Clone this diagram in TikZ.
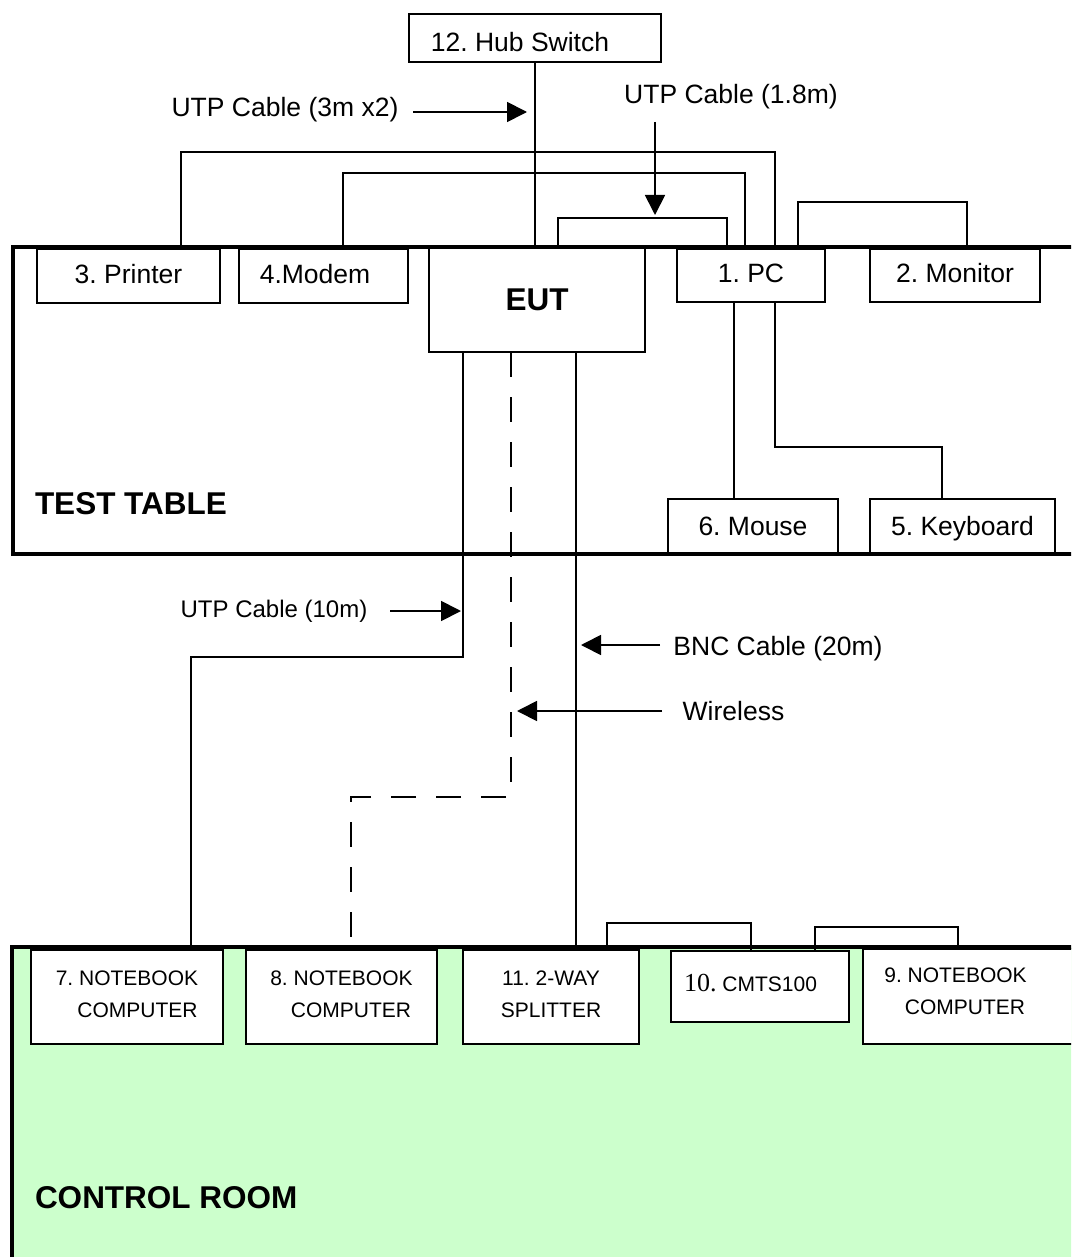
\documentclass[tikz,border=0pt]{standalone}
\usepackage{fontspec}
\setmainfont{Liberation Sans}
\newfontfamily\tnrfont{Liberation Serif}
\usetikzlibrary{arrows.meta}
\definecolor{roomgreen}{RGB}{204,255,204}
\frenchspacing
\begin{document}
\frenchspacing
\begin{tikzpicture}[x=1pt,y=-1pt,
  box/.style={draw, line width=1.8pt, fill=white, inner sep=0pt, outer sep=0pt, anchor=north west, align=center},
  lbl/.style={inner sep=0pt, outer sep=0pt, anchor=base},
  wire/.style={line width=1.7pt},
  cable/.style={line width=2.6pt},
  wless/.style={line width=2.7pt, dash pattern=on 25pt off 20pt},
  region/.style={line width=4.5pt},
  arr/.style={line width=1.8pt, -{Triangle[length=20pt,width=20pt]}},
  f26/.style={font=\fontsize{26.5}{30}\selectfont\frenchspacing},
  f24/.style={font=\fontsize{24}{28}\selectfont\frenchspacing},
  f21/.style={font=\fontsize{21}{32}\selectfont\frenchspacing},
  fbold/.style={font=\fontsize{31.5}{36}\selectfont\bfseries},
  toprow/.style={text height=14pt, text depth=0pt},
  lowrow/.style={text height=18pt, text depth=0pt},
  tworow/.style={text height=41pt, text depth=0pt},
]
\useasboundingbox (0,0) rectangle (1071,1257);
\fill[white] (0,0) rectangle (1071,1257);
\begin{scope}
\clip (0,0) rectangle (1071,1257);

% control room area
\fill[roomgreen] (12,947) rectangle (1090,1270);

% boxes on the test table
\node[box, f26, text height=27pt, text depth=0pt, minimum width=252pt, minimum height=48pt] (hub) at (409,14) {12. Hub Switch\hspace*{30pt}};
\node[box, f26, toprow, minimum width=183pt, minimum height=54pt] (printer) at (37,249) {3. Printer};
\node[box, f26, toprow, minimum width=169pt, minimum height=54pt] (modem) at (239,249) {4.Modem\hspace*{17pt}};
\node[box, fbold, minimum width=216pt, minimum height=105pt] (eut) at (429,247) {EUT};
\node[box, f26, toprow, minimum width=148pt, minimum height=53pt] (pc) at (677,249) {1. PC};
\node[box, f26, toprow, minimum width=170pt, minimum height=53pt] (monitor) at (870,249) {2. Monitor};
\node[box, f26, lowrow, minimum width=170pt, minimum height=54pt] (mouse) at (668,499) {6. Mouse};
\node[box, f26, lowrow, minimum width=185pt, minimum height=54pt] (kbd) at (870,499) {5. Keyboard};

% boxes in the control room
\node[box, f21, tworow, minimum width=192pt, minimum height=94pt] (nb7) at (31,950) {7. NOTEBOOK\\\hspace*{21pt}COMPUTER};
\node[box, f21, tworow, minimum width=191pt, minimum height=94pt] (nb8) at (246,950) {8. NOTEBOOK\\\hspace*{19pt}COMPUTER};
\node[box, f21, tworow, minimum width=176pt, minimum height=94pt] (split) at (463,950) {11. 2-WAY\\SPLITTER};
\node[box, f21, text height=10.5pt, text depth=0pt, minimum width=178pt, minimum height=71pt] (cmts) at (671,951) {{\tnrfont\fontsize{26}{26}\selectfont 10.} CMTS100\hspace*{19pt}};
\node[box, f21, text height=36pt, text depth=0pt, minimum width=217pt, minimum height=95pt] (nb9) at (863,949) {9. NOTEBOOK\hspace*{32pt}\\COMPUTER\hspace*{13pt}};

% region borders
\draw[region] (1090,247) -- (13,247) -- (13,554) -- (1090,554);
\draw[region] (1090,947) -- (12,947) -- (12,1270);

\node[lbl, fbold, anchor=base west] (testtable) at (35,514) {TEST TABLE};
\node[lbl, fbold, anchor=base west] (controlroom) at (35,1208) {CONTROL ROOM};

% cables on the test table
\draw[wire] (hub.south) -- (hub.south |- eut.north);
\draw[wire] ([xshift=52.5pt]printer.north) -- ++(0,-97) -| ([xshift=24pt]pc.north);
\draw[wire] ([xshift=19.5pt]modem.north) -- ++(0,-76) -| ([xshift=-6pt]pc.north);
\draw[wire] ([xshift=21pt]eut.north) -- ++(0,-29) -| ([xshift=-24pt]pc.north);
\draw[wire] ([xshift=47pt]pc.north) -- ++(0,-47) -| ([xshift=12pt]monitor.north);
\draw[wire] ([xshift=-17pt]pc.south) -- ([xshift=-17pt]pc.south |- mouse.north);
\draw[wire] ([xshift=24pt]pc.south) -- ++(0,145) -| ([xshift=-20.5pt]kbd.north);

% cables to the control room
\draw[cable] ([xshift=-74pt]eut.south) -- ++(0,305) -| ([xshift=64pt]nb7.north);
\draw[wless] ([xshift=-26pt]eut.south) -- ++(0,445) -| ([xshift=9.5pt,yshift=13pt]nb8.north);
\draw[cable] ([xshift=39pt]eut.south) -- ([xshift=39pt]eut.south |- split.north);

% cables in the control room
\draw[wire] ([xshift=56pt]split.north) -- ++(0,-27) -| ([xshift=-9pt]cmts.north);
\draw[wire] ([xshift=55pt]cmts.north) -- ++(0,-24) -| ([xshift=-13.5pt]nb9.north);

% labels
\node[lbl, f26] (utp3) at (285,117) {UTP Cable (3m x2)};
\node[lbl, f26] (utp18) at (731,104) {UTP Cable (1.8m)};
\node[lbl, f24] (utp10) at (274,617) {UTP Cable (10m)};
\node[lbl, f26] (bnc) at (778,655) {BNC Cable (20m)};
\node[lbl, f26] (wireless) at (733.5,720) {Wireless};

% pointer arrows
\coordinate (a1s) at (413,112); \coordinate (a1e) at (527,112);
\coordinate (a2s) at (655,122); \coordinate (a2e) at (655,215);
\coordinate (a3s) at (390,611); \coordinate (a3e) at (461,611);
\coordinate (a4s) at (660,645); \coordinate (a4e) at (581,645);
\coordinate (a5s) at (662,711); \coordinate (a5e) at (517,711);
\draw[arr] (a1s) -- (a1e);
\draw[arr] (a2s) -- (a2e);
\draw[arr] (a3s) -- (a3e);
\draw[arr] (a4s) -- (a4e);
\draw[arr] (a5s) -- (a5e);
\end{scope}
\end{tikzpicture}
\end{document}
